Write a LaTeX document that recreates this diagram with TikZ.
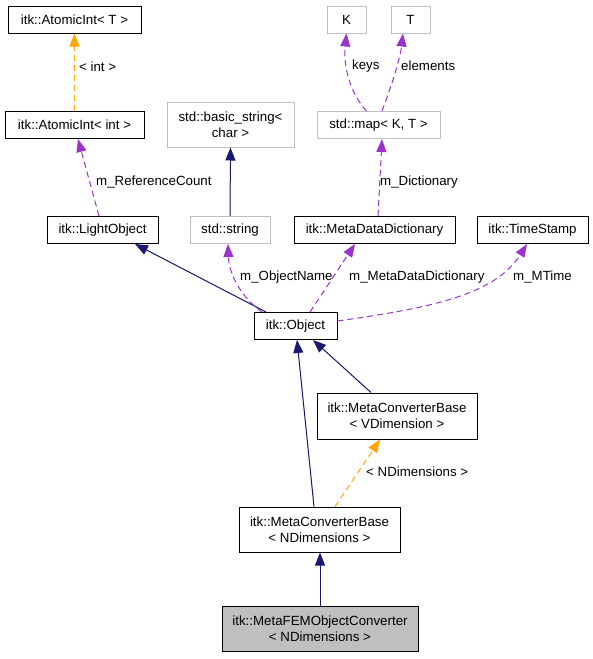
\documentclass[tikz,border=0pt]{standalone}
\usepackage{fontspec}
\setmainfont{Liberation Sans}
\usetikzlibrary{arrows.meta}
\definecolor{inhcol}{HTML}{191970}
\definecolor{usecol}{HTML}{9A32CD}
\definecolor{tplcol}{HTML}{FFA500}
\definecolor{extcol}{HTML}{BFBFBF}
\begin{document}
\begin{tikzpicture}[x=1pt, y=-1pt,
  cls/.style={draw, line width=1pt, minimum height=27pt, inner sep=1pt, align=center, font=\fontsize{13.3}{16}\selectfont},
  ext/.style={cls, draw=extcol},
  lab/.style={anchor=west, inner sep=0pt, font=\fontsize{13.3}{16}\selectfont},
  tip/.style={-{Triangle[length=13pt, width=10pt]}},
  inh/.style={tip, draw=inhcol, fill=inhcol, line width=1pt},
  use/.style={tip, draw=usecol, line width=1pt, dash pattern=on 6pt off 4pt},
  tpl/.style={tip, draw=tplcol, line width=1pt, dash pattern=on 6pt off 4pt}
]
\useasboundingbox (0,0) rectangle (593,659);
% classes
\node[cls, minimum width=133pt] (atomT) at (74.5,19.5) {itk::AtomicInt< T >};
\node[cls, minimum width=139pt] (atomInt) at (74.5,125) {itk::AtomicInt< int >};
\node[cls, minimum width=111pt] (light) at (102.5,230) {itk::LightObject};
\node[ext, minimum width=127pt, minimum height=45pt] (bstring) at (230.5,124.5) {std::basic\_string<\\char >};
\node[ext, minimum width=80pt] (string) at (230,230) {std::string};
\node[ext, minimum width=39pt] (keyK) at (346.5,19.5) {K};
\node[ext, minimum width=39pt] (keyT) at (410.5,19.5) {T};
\node[ext, minimum width=123pt] (map) at (378.5,125) {std::map< K, T >};
\node[cls, minimum width=161pt] (dict) at (374.5,230) {itk::MetaDataDictionary};
\node[cls, minimum width=111pt] (stamp) at (532.5,230) {itk::TimeStamp};
\node[cls, minimum width=83pt] (object) at (295.5,326) {itk::Object};
\node[cls, minimum width=160pt, minimum height=46pt] (convV) at (397,416) {itk::MetaConverterBase\\< VDimension >};
\node[cls, minimum width=161pt, minimum height=45pt] (convN) at (319.5,529.5) {itk::MetaConverterBase\\< NDimensions >};
\node[cls, fill=extcol, minimum width=196pt, minimum height=45pt] (fem) at (320,628.5) {itk::MetaFEMObjectConverter\\< NDimensions >};
% connectors
\draw[tpl] (atomInt.north) -- (atomT.south);
\draw[use] ([xshift=-3.5pt]light.north) -- ([xshift=3.5pt]atomInt.south);
\draw[inh] (string.north) -- (bstring.south);
\draw[use] ([xshift=-12pt]map.north) .. controls (352,95) and (343,70) .. (keyK.south);
\draw[use] ([xshift=3.5pt]map.north) .. controls (390,90) and (400,60) .. ([xshift=-7.5pt]keyT.south);
\draw[use] ([xshift=3.5pt]dict.north) -- ([xshift=3.5pt]map.south);
\draw[inh] ([xshift=-29.5pt]object.north) -- ([xshift=32.5pt]light.south);
\draw[use] ([xshift=-33.5pt]object.north) .. controls (242,298) and (229,275) .. ([xshift=-2pt]string.south);
\draw[use] ([xshift=14.5pt]object.north) -- ([xshift=-19.5pt]dict.south);
\draw[use] ([yshift=5pt]object.east) .. controls (430,308) and (495,295) .. ([xshift=-5.5pt]stamp.south);
\draw[inh] ([xshift=-26pt]convV.north) -- ([xshift=17.5pt]object.south);
\draw[inh] ([xshift=-5.5pt]convN.north) -- ([xshift=1.5pt]object.south);
\draw[tpl] ([xshift=15.5pt]convN.north) -- ([xshift=-17pt]convV.south);
\draw[inh] (fem.north) -- ([xshift=0.5pt]convN.south);
% labels
\node[lab] (lblInt) at (79,67) {< int >};
\node[lab] (lblRef) at (96,182) {m\_ReferenceCount};
\node[lab] (lblKeys) at (352,66) {keys};
\node[lab] (lblElem) at (401,66) {elements};
\node[lab] (lblDict) at (380,182) {m\_Dictionary};
\node[lab] (lblName) at (240,277) {m\_ObjectName};
\node[lab] (lblMeta) at (349,277) {m\_MetaDataDictionary};
\node[lab] (lblTime) at (513,277) {m\_MTime};
\node[lab] (lblNDim) at (366,472) {< NDimensions >};
\end{tikzpicture}
\end{document}
